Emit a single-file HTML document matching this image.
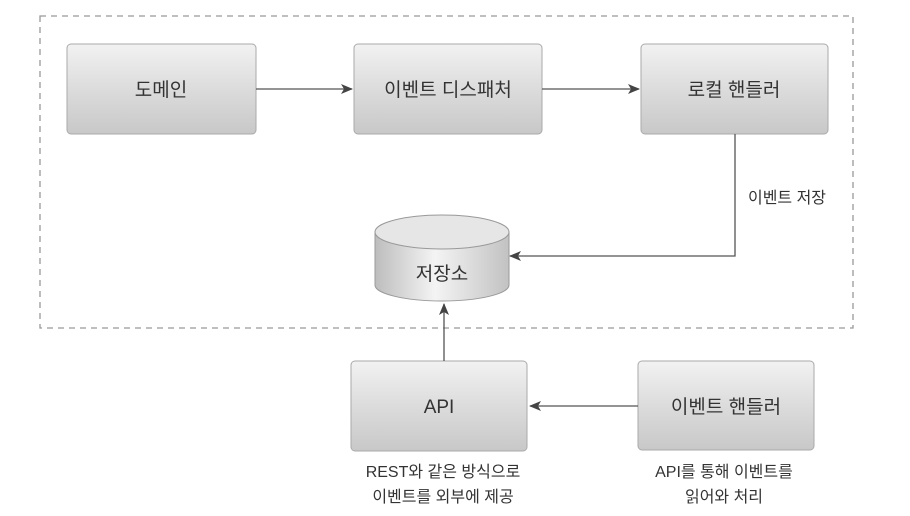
<!DOCTYPE html>
<html><head><meta charset="utf-8"><style>
html,body{margin:0;padding:0;background:#fff;}
svg{display:block;}
text{font-family:"Liberation Sans","Noto Sans CJK KR","NanumGothic",sans-serif;fill:#333;}
</style></head><body>
<svg width="910" height="516" viewBox="0 0 910 516" xmlns="http://www.w3.org/2000/svg">
<defs>
<linearGradient id="bx" x1="0" y1="0" x2="0" y2="1">
<stop offset="0" stop-color="#f2f2f2"/><stop offset="0.5" stop-color="#dcdcdc"/><stop offset="1" stop-color="#c8c8c8"/>
</linearGradient>
<linearGradient id="cy" x1="0" y1="0" x2="1" y2="0">
<stop offset="0" stop-color="#bdbdbd"/><stop offset="0.45" stop-color="#f4f4f4"/><stop offset="1" stop-color="#c2c2c2"/>
</linearGradient>
<marker id="ar" markerWidth="12" markerHeight="10" refX="11" refY="5" orient="auto" markerUnits="userSpaceOnUse">
<path d="M0,0 L12,5 L0,10 L3,5 Z" fill="#444"/>
</marker>
</defs>
<rect x="40" y="16" width="813" height="312" fill="none" stroke="#999" stroke-width="1.3" stroke-dasharray="6,5"/>
<g stroke="#aaa" stroke-width="1" fill="url(#bx)">
<rect x="67" y="44" width="189" height="90" rx="4"/>
<rect x="354" y="44" width="188" height="90" rx="4"/>
<rect x="641" y="44" width="187" height="90" rx="4"/>
<rect x="351" y="361" width="176" height="90" rx="4"/>
<rect x="638" y="361" width="176" height="89" rx="4"/>
</g>
<path d="M375,232 L375,285 A67,16 0 0 0 509,285 L509,232 Z" fill="url(#cy)" stroke="#999"/>
<ellipse cx="442" cy="232" rx="67" ry="17" fill="#e6e6e6" stroke="#999"/>
<g stroke="#555" stroke-width="1.3" fill="none" marker-end="url(#ar)">
<line x1="256" y1="89" x2="352" y2="89"/>
<line x1="542" y1="89" x2="639" y2="89"/>
<polyline points="735,134 735,256 510,256"/>
<line x1="444" y1="361" x2="444" y2="304"/>
<line x1="638" y1="406" x2="530" y2="406"/>
</g>
<g font-size="19" text-anchor="middle">
<text x="161" y="96">도메인</text>
<text x="448" y="96">이벤트 디스패처</text>
<text x="734" y="96">로컬 핸들러</text>
<text x="442" y="280">저장소</text>
<text x="439" y="413">API</text>
<text x="726" y="413">이벤트 핸들러</text>
</g>
<g font-size="16" text-anchor="middle">
<text x="787" y="203">이벤트 저장</text>
<text x="443" y="477">REST와 같은 방식으로</text>
<text x="443" y="502">이벤트를 외부에 제공</text>
<text x="724" y="477">API를 통해 이벤트를</text>
<text x="724" y="502">읽어와 처리</text>
</g>
</svg>
</body></html>
